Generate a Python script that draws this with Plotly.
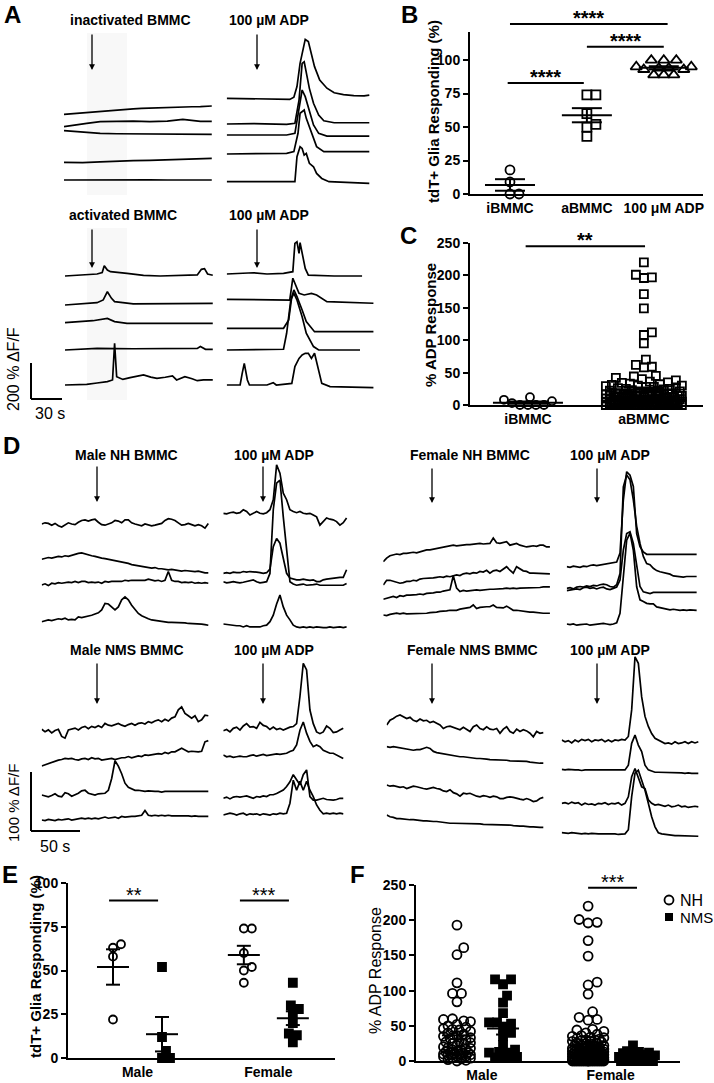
import numpy as np
import plotly.graph_objects as go

W, H = 714, 1083
FONT = "Liberation Sans, Arial, sans-serif"

# ======================= DATA =======================
# ---- Panel A traces: time (s) and dF/F (%) relative to each trace's start ----
A_in_t = [[0,8,18,27,35,43,51,59,67,75,83,91,100,108,115,124,132,138,143],
          [0,9,22,35,51,67,83,100,115,122,132,143],
          [0,13,25,35,51,67,83,100,115,143],
          [0,18,35,51,67,83,100,115,132,143],
          [0,18,35,51,67,83,100,115,132,143]]
A_in_v = [[0,4,9,13,17,21,24,27,30,33,35,36,37,39,40,42,43,44,46],
          [0,9,18,28,31,31,28,31,41,37,30,30],
          [0,-6,-11,-15,-17,-18,-18,-20,-20,-20],
          [0,-2,2,7,9,11,13,17,20,22],
          [0,1,0,-1,0,1,0,0,-1,0]]
A_adp1_t = [[0,16,32,48,61,65,68,71,75,76,79,82,85,90,97,104,113,123,133,138],
            [0,26,58,66,70,73,75,77,80,84,89,94,104,138],
            [0,58,66,70,73,76,79,84,89,97,138],
            [0,58,65,69,71,75,77,82,87,94,138],
            [0,39,66,68,71,73,75,77,80,84,87,92,99,138]]
A_adp1_v = [[0,-2,-4,-6,-6,6,65,194,296,327,315,250,176,102,56,31,20,15,13,18],
            [0,2,-2,4,133,337,346,290,198,115,50,18,7,7],
            [0,0,9,139,250,213,157,56,9,-6,-6],
            [0,4,13,115,226,244,198,115,41,13,13],
            [0,0,0,139,194,185,148,157,102,83,46,18,0,-9]]
A_act_t = [[0,17,31,36,38,41,44,60,76,92,111,128,132,135,138,143],
           [0,17,31,37,41,45,48,66,99,143],
           [0,27,41,48,60,143],
           [0,31,66,128,131,136,143],
           [0,10,21,31,41,46,48,50,56,63,70,76,83,89,97,104,108,116,123,128,134,143]]
A_act_v = [[0,6,11,19,57,33,24,15,4,0,4,6,37,41,11,4],
           [0,6,13,28,74,37,19,6,9,9],
           [0,11,24,6,-4,-4],
           [0,9,7,9,19,4,4],
           [0,2,4,11,19,28,231,46,31,41,50,56,44,37,43,50,28,46,35,24,28,28]]
A_adp2_t = [[0,13,26,39,55,64,66,68,70,71,74,76,79,104,131],
            [0,39,61,64,66,70,75,82,87,97,142],
            [0,55,60,63,65,68,73,77,85,142],
            [0,55,58,62,65,68,73,77,84,89,129],
            [0,13,15,17,20,22,39,45,48,63,66,70,73,76,79,82,85,89,92,100,142]]
A_adp2_v = [[0,4,7,0,4,13,170,179,115,174,78,31,-6,-11,-11],
            [0,0,-4,117,89,33,24,33,24,-13,-22],
            [0,0,46,176,213,176,102,37,-19,-19],
            [0,4,93,278,315,278,185,93,19,0,0],
            [0,0,65,120,28,0,0,13,0,9,102,148,167,176,176,148,176,83,9,-9,-15]]

# ---- Panel D traces: dF/F (%) sampled every 3.4 s ----
D_dt = 3.4
D_male_NH = [
    [0,2,1,-2,1,-3,-5,-1,2,0,-1,3,6,7,5,7,8,3,-1,-2,0,2,6,5,2,7,7,2,0,-2,-3,0,-1,-3,-2,0,1,6,9,8,6,2,-2,-1,1,-1,-3,-1,-3,-7,1],
    [0,1,3,2,4,5,4,6,5,7,8,10,11,9,7,6,5,3,2,1,0,-1,-2,-4,-5,-6,-7,-9,-10,-11,-12,-13,-14,-15,-14,-16,-16,-17,-18,-17,-18,-19,-20,-19,-20,-21,-21,-20,-22,-23,-23],
    [0,2,-1,3,2,4,3,4,5,4,6,4,6,6,4,5,4,5,3,6,5,6,6,7,6,8,7,8,8,7,8,8,10,8,7,8,6,8,23,8,6,6,4,5,4,5,3,4,3,4,3],
    [0,2,3,2,4,5,4,6,3,4,3,8,7,8,9,11,13,15,20,31,30,25,20,25,37,42,37,28,20,14,10,7,5,3,2,2,1,0,-1,-1,-1,-2,-2,-2,-3,-3,-3,-4,-4,-5,-6]]
D_male_NH_adp = [
    [0,-1,1,2,0,1,6,3,-3,0,3,0,-1,1,6,23,82,68,34,23,6,3,1,3,0,-1,0,-3,-6,-20,-14,-8,-10,-11,-14,-20,-16,-8],
    [0,1,0,2,1,1,3,2,3,3,2,1,0,1,7,45,59,51,28,0,-8,-10,-11,-11,-10,-11,-12,-11,-14,-14,-11,-10,-9,-8,-8,-7,-7,6],
    [0,-2,-1,0,-1,-2,-1,0,2,3,0,-2,-1,0,14,122,167,172,110,48,0,-4,-6,-5,-4,-6,-6,-5,-4,-6,-6,-6,-5,-6,-6,-5,-6,-3],
    [0,-1,-2,-2,-3,-3,-5,-3,-5,-5,-5,-5,-3,-2,4,15,34,49,29,15,7,-2,-5,-6,-5,-6,-5,-6,-5,-6,-6,-6,-5,-6,-5,-5,-6,-5]]
D_female_NH = [
    [0,6,10,11,13,12,14,14,15,16,15,17,19,20,20,21,22,24,25,25,27,28,27,28,29,29,29,30,30,31,30,31,31,40,32,31,32,34,28,30,31,28,27,25,26,27,26,28,28,25,25],
    [0,8,8,6,4,3,4,6,6,8,7,10,11,11,11,12,13,14,13,15,14,15,17,16,19,20,19,21,20,23,22,25,20,24,25,23,27,31,25,20,31,27,24,23,20,20,20,19,20,19,19],
    [0,2,3,5,3,6,5,7,7,7,8,9,8,10,10,11,12,12,14,15,16,40,19,13,15,14,15,16,16,15,16,17,17,17,17,18,18,19,18,19,18,19,19,19,20,19,20,20,21,21,21],
    [0,-1,1,2,3,2,3,2,2,3,3,2,3,3,4,4,5,6,6,7,8,8,8,10,11,12,13,17,11,13,14,14,14,17,13,13,12,15,11,8,8,7,7,6,5,5,4,4,3,3,3]]
D_female_NH_adp = [
    [0,-1,1,0,-1,1,0,2,3,2,3,3,4,5,6,8,23,113,161,155,136,56,34,25,21,21,21,21,21,21,22,21,21,21,22,21,21,21,21,21],
    [0,1,-1,2,3,2,4,3,5,4,6,7,6,3,2,6,25,172,192,184,150,105,76,54,42,40,34,30,28,27,25,24,21,20,20,19,20,20,20,20],
    [0,1,2,3,2,5,6,4,5,3,5,6,3,2,4,6,18,69,97,100,80,41,7,-2,-3,-5,-3,-3,-3,-2,-3,-3,-3,-2,-3,-3,-3,-2,-3,-3],
    [0,-1,0,-2,-1,-1,0,-2,-1,-1,0,1,0,-1,0,2,18,86,142,154,125,63,41,38,35,34,34,29,28,27,25,24,25,24,23,24,23,24,23,23]]
D_male_NMS = [
    [0,-4,-1,-6,-2,0,-12,-15,-1,0,2,-1,3,5,1,5,3,6,3,10,7,6,8,10,7,5,8,10,7,10,11,9,13,11,14,16,13,17,14,19,21,33,38,27,23,19,23,13,16,24,23],
    [0,2,5,7,9,10,11,13,12,13,11,10,12,13,11,14,12,13,10,11,12,13,11,13,14,14,16,14,16,17,16,19,18,19,20,21,20,23,21,24,24,27,30,27,24,25,24,24,25,41,43],
    [0,-2,-3,-1,2,-2,-3,4,2,-2,0,3,7,8,3,2,0,2,3,3,8,28,58,49,36,20,13,11,8,8,7,6,7,6,6,6,5,6,6,5,6,6,5,6,6,5,6,6,5,6,6],
    [0,-1,1,0,-1,1,0,1,2,0,1,2,3,2,3,2,3,2,3,5,3,4,5,3,6,5,6,6,6,7,8,16,8,7,8,7,8,7,8,7,7,8,7,7,7,6,7,6,6,7,6]]
D_male_NMS_adp = [
    [0,2,-2,4,6,1,8,12,6,7,4,14,9,7,2,6,2,4,1,4,6,7,12,58,114,103,35,12,-2,-5,-2,8,4,-3,-2,1,4],
    [0,-3,-2,-4,-3,-2,-3,-3,-1,0,-2,0,1,-1,0,0,2,1,2,3,6,8,17,42,56,37,23,14,17,14,8,6,3,3,0,-3,-6],
    [0,2,-1,2,3,2,3,4,2,0,3,2,4,3,6,6,8,11,14,20,28,40,31,23,40,48,3,-3,-3,-2,0,-2,-3,-3,-2,0,0],
    [0,2,3,2,0,2,3,0,2,1,2,0,2,1,0,2,1,3,2,3,20,59,42,57,42,57,42,31,17,8,2,3,2,3,2,3,2]]
D_female_NMS = [
    [0,8,11,15,17,14,11,13,8,6,10,7,8,4,6,3,0,-6,-3,-2,-4,-6,-8,-4,-7,-11,-3,0,-6,-8,-3,-7,-8,-6,-14,-7,-3,-11,-14,-7,-11,-8,-10,-14,-20,-11,-14,-13],
    [0,-1,0,-1,-2,-3,-3,-5,-6,-5,-5,-3,-1,-3,-8,-10,-11,-12,-14,-15,-16,-16,-17,-17,-18,-19,-19,-20,-20,-20,-21,-22,-22,-22,-23,-23,-23,-24,-24,-24,-25,-25,-25,-26,-27,-27,-28,-28],
    [0,-2,-1,-3,-4,-3,-6,-4,-2,-3,-5,-6,-7,-6,-4,-6,-7,-10,-11,-8,-13,-15,-19,-14,-15,-14,-17,-19,-20,-18,-19,-21,-19,-20,-23,-23,-21,-20,-21,-23,-24,-25,-23,-25,-28,-27,-23,-21],
    [0,-3,-4,-6,-6,-7,-8,-8,-8,-9,-10,-10,-10,-11,-11,-11,-12,-13,-13,-14,-14,-14,-14,-14,-15,-15,-15,-14,-15,-16,-16,-16,-17,-17,-17,-16,-17,-17,-18,-19,-19,-19,-20,-20,-20,-21,-21,-21]]
D_female_NMS_adp = [
    [0,-3,-1,-5,0,-3,1,-1,1,-3,0,-1,1,-3,0,-3,0,-1,1,0,6,51,141,130,73,40,23,11,3,0,-3,-6,-5,-7,-3,-6,-5,-3,-6,-3,-5,-3],
    [0,-1,0,-1,-1,-1,-2,-1,-1,-1,-2,-1,-1,-2,-1,-1,-2,-1,-1,-1,7,44,58,41,30,7,-1,-3,-5,-5,-5,-6,-5,-6,-6,-6,-6,-7,-6,-7,-7,-7],
    [0,1,-1,2,0,1,-3,0,-2,-1,-3,0,-1,1,-2,0,-1,1,-3,0,11,45,59,42,28,25,6,0,-3,-2,-3,-5,-3,-6,-5,-3,-6,-5,-7,-6,-5,-6],
    [0,-1,-1,0,-1,-1,-2,-1,-2,-1,-2,-2,-2,-2,-2,-1,-2,-3,-2,-2,5,61,101,106,89,72,50,27,10,0,-2,-3,-4,-5,-5,-5,-5,-6,-5,-6,-6,-6]]

# ---- Panel B: % tdT+ glia responding ----
B_categories = ["iBMMC", "aBMMC", "100 μM ADP"]
B_iBMMC = [18, 9, 0, 0]
B_aBMMC = [74, 74, 60, 52, 50, 43]
B_ADP = [100, 100, 100, 95, 95, 94, 94, 93, 93, 89, 89, 89]

# ---- Panel C: % ADP response ----
C_categories = ["iBMMC", "aBMMC"]
C_iBMMC = [8, 3, 0, 0, 0, 0, 6, 12]
C_aBMMC = [220, 201, 196, 197, 171, 149, 112, 108, 95, 70, 62, 58, 59, 45, 44, 42, 40, 38, 36, 35, 34,
           33, 32, 31, 30, 30, 29, 28, 28, 27, 26, 25, 25, 24, 23, 22, 22, 21, 20, 20,
           19, 18, 18, 17, 16, 16, 15, 15, 14, 14, 13, 13, 12, 12, 12, 11, 11, 10, 10, 10,
           9, 9, 9, 8, 8, 8, 7, 7, 7, 6, 6, 6, 5, 5, 5, 4, 4, 4, 3, 3, 3, 2, 2, 2, 1, 1, 1, 1,
           18, 17, 15, 14, 13, 12, 11, 10, 9, 8, 7, 6, 5, 4, 3, 2, 2, 1, 1, 1,
           16, 13, 11, 9, 7, 5, 3, 2, 1, 1,
           0, 0, 0, 0, 0, 0, 0, 0, 0, 0, 0, 0, 0, 0, 0, 0]

# ---- Panel E: % tdT+ glia responding by sex ----
E_sexes = ["Male", "Female"]
E_male_NH = [65, 63, 58, 22]
E_male_NMS = [52, 12, 4, 0, 0]
E_female_NH = [74, 74, 60, 52, 50, 43]
E_female_NMS = [43, 30, 28, 25, 20, 14, 13, 9]

# ---- Panel F: % ADP response by sex ----
F_male_NH = [193, 161, 151, 111, 96, 96, 84, 60, 59, 57, 56, 52, 50, 48, 46, 45, 44, 42, 40, 38, 36, 35, 33, 32, 30,
             28, 27, 26, 25, 24, 22, 20, 19, 18, 17, 16, 15, 14, 13, 12, 12, 11, 11, 10, 10, 9, 9, 8, 8, 7, 7, 6, 5, 4, 3, 2, 1, 0]
F_male_NMS = [116, 116, 109, 93, 83, 68, 55, 53, 55, 47, 40, 35, 23, 16, 12, 12, 13, 5, 5, 6, 4]
F_female_NH = C_aBMMC
F_female_NMS = [22, 14, 13, 12, 11, 10, 9, 8, 7, 6, 5, 4, 3, 2, 2, 1, 1, 0, 0, 0, 0, 0, 0, 0, 0, 0]

# ======================= FIGURE =======================
fig = go.Figure()
layout = {}
geo = {}
count = [0]


def add_axes(x0, x1, ytop, ybot, xr, yr):
    count[0] += 1
    n = count[0]
    s = "" if n == 1 else str(n)
    layout["xaxis" + s] = dict(domain=[x0 / W, x1 / W], range=xr, anchor="y" + s,
                               visible=False, fixedrange=True)
    layout["yaxis" + s] = dict(domain=[1 - ybot / H, 1 - ytop / H], range=yr, anchor="x" + s,
                               visible=False, fixedrange=True)
    geo[n] = (x0, x1, ytop, ybot, xr, yr)
    return n, "x" + s, "y" + s


def to_px(n, x, y):
    x0, x1, yt, yb, xr, yr = geo[n]
    X = x0 + (x - xr[0]) / (xr[1] - xr[0]) * (x1 - x0)
    Y = yb - (y - yr[0]) / (yr[1] - yr[0]) * (yb - yt)
    return X, Y


def P(X, Y):
    return X / W, 1 - Y / H


def trace_panel(x0, ytop, ybot, px_s, px_pct, times, values, baselines):
    width = min(200, W - x0 - 1)
    n, xa, ya = add_axes(x0, x0 + width, ytop, ybot, [0, width / px_s], [0, (ybot - ytop) / px_pct])
    for t, v, b in zip(times, values, baselines):
        off = (ybot - b) / px_pct
        fig.add_trace(go.Scatter(x=t, y=np.array(v, float) + off, mode="lines",
                                 line=dict(color="black", width=1.7), xaxis=xa, yaxis=ya,
                                 showlegend=False, hoverinfo="skip"))


A_PX_S, A_PX_PCT = 31 / 30, 36 / 200
D_PX_S, D_PX_PCT = 49 / 50, 59 / 100

trace_panel(64, 25, 205, A_PX_S, A_PX_PCT, A_in_t, A_in_v, [114.3, 126.7, 130.7, 162.3, 180.0])
trace_panel(226.7, 25, 205, A_PX_S, A_PX_PCT, A_adp1_t, A_adp1_v, [98.3, 124.0, 135.0, 154.0, 181.7])
trace_panel(65, 225, 405, A_PX_S, A_PX_PCT, A_act_t, A_act_v, [276.0, 305.0, 322.7, 350.0, 385.0])
trace_panel(226.7, 225, 405, A_PX_S, A_PX_PCT, A_adp2_t, A_adp2_v, [274.0, 299.3, 328.3, 350.0, 385.0])


def dtimes(vals):
    return [list(np.arange(len(v)) * D_dt) for v in vals]


for vals, x0, ytop, ybot, bases in [
    (D_male_NH, 41.7, 455, 645, [524, 559.3, 585, 621.7]),
    (D_male_NH_adp, 223.3, 455, 645, [513.3, 573.3, 581.7, 624]),
    (D_female_NH, 383.3, 455, 645, [561.7, 585, 599.3, 615]),
    (D_female_NH_adp, 566.7, 455, 645, [566.7, 588.3, 590.7, 624]),
    (D_male_NMS, 41.7, 650, 850, [729.3, 766, 795, 820]),
    (D_male_NMS_adp, 223.3, 650, 850, [730.7, 755, 798.3, 815]),
    (D_female_NMS, 386.7, 650, 850, [725, 746.7, 785, 815]),
    (D_female_NMS_adp, 561.7, 650, 850, [740, 769.3, 803.3, 832.7]),
]:
    trace_panel(x0, ytop, ybot, D_PX_S, D_PX_PCT, dtimes(vals), vals, bases)


# ---------- dot plots ----------
def stat_panel(x0, x1, ytop, ybot, xr, yr, yticks, xticks, xlabels, fs):
    n, xa, ya = add_axes(x0, x1, ytop, ybot, xr, yr)
    s = "" if n == 1 else str(n)
    tf = dict(family=FONT, size=fs, color="black", weight="bold")
    layout["xaxis" + s].update(visible=True, showline=True, linecolor="black", linewidth=2, ticks="",
                               tickvals=xticks, ticktext=xlabels, tickfont=tf, showgrid=False, zeroline=False)
    layout["yaxis" + s].update(visible=True, showline=True, linecolor="black", linewidth=2, ticks="outside",
                               ticklen=5, tickwidth=2, tickcolor="black", tickvals=yticks, tickfont=tf,
                               showgrid=False, zeroline=False)
    return n, xa, ya


def swarm(vals, ky, d, maxhalf):
    vals = np.asarray(vals, float)
    order = np.argsort(vals, kind="stable")
    step = d / 4
    cands = [0.0]
    j = 1
    while j * step <= maxhalf:
        cands += [j * step, -j * step]
        j += 1
    px_, py_ = [], []
    offs = np.zeros(len(vals))
    for i in order:
        y = vals[i] * ky
        best, bestd = 0.0, -1.0
        for c in cands:
            dist = np.min(np.hypot(np.array(px_) - c, np.array(py_) - y)) if px_ else np.inf
            if dist >= d * 0.98:
                best = c
                break
            if dist > bestd:
                best, bestd = c, dist
        offs[i] = best
        px_.append(best)
        py_.append(y)
    return offs


def group(n, xa, ya, center, vals, symbol, size, maxhalf, hw, cw):
    x0, x1, yt, yb, xr, yr = geo[n]
    kx = (x1 - x0) / (xr[1] - xr[0])
    ky = (yb - yt) / (yr[1] - yr[0])
    offs = swarm(vals, ky, size, maxhalf)
    fig.add_trace(go.Scatter(x=center + offs / kx, y=vals, mode="markers", cliponaxis=False,
                             marker=dict(symbol=symbol, size=size, color="black",
                                         line=dict(color="black", width=1.8)),
                             xaxis=xa, yaxis=ya, showlegend=False, hoverinfo="skip"))
    v = np.asarray(vals, float)
    m = v.mean()
    se = v.std(ddof=1) / np.sqrt(len(v))
    h, c = hw / kx, cw / kx
    xs = [center - h, center + h, None, center, center, None,
          center - c, center + c, None, center - c, center + c]
    ys = [m, m, None, m - se, m + se, None, m + se, m + se, None, m - se, m - se]
    fig.add_trace(go.Scatter(x=xs, y=ys, mode="lines", line=dict(color="black", width=2),
                             xaxis=xa, yaxis=ya, showlegend=False, hoverinfo="skip", cliponaxis=False))


# Panel B
nB, xB, yB = stat_panel(470, 703, 32, 194, [0.48, 3.51], [0, 121], [0, 25, 50, 75, 100], [1, 2, 3], B_categories, 14)
group(nB, xB, yB, 1, B_iBMMC, "circle-open", 9, 25, 25, 15)
group(nB, xB, yB, 2, B_aBMMC, "square-open", 9, 25, 25, 15)
group(nB, xB, yB, 3, B_ADP, "triangle-up-open", 10, 28, 25, 15)

# Panel C
nC, xC, yC = stat_panel(470, 703, 243, 405, [0.5, 2.51], [0, 250], [0, 50, 100, 150, 200, 250], [1, 2], C_categories, 14)
group(nC, xC, yC, 1, C_iBMMC, "circle-open", 8, 36, 35, 20)
group(nC, xC, yC, 2, C_aBMMC, "square-open", 8, 38, 35, 20)

# Panel E
nE, xE, yE = stat_panel(68, 335, 883, 1058, [0.082, 5.53], [0, 100], [0, 25, 50, 75, 100], [1.5, 4.17], E_sexes, 14)
group(nE, xE, yE, 1, E_male_NH, "circle-open", 8, 12, 16, 7)
group(nE, xE, yE, 2, E_male_NMS, "square", 8, 14, 16, 7)
group(nE, xE, yE, 3.67, E_female_NH, "circle-open", 8, 12, 16, 7)
group(nE, xE, yE, 4.67, E_female_NMS, "square", 8, 14, 16, 7)

# Panel F
nF, xF, yF = stat_panel(416, 680, 885, 1061, [0.128, 5.745], [0, 250], [0, 50, 100, 150, 200, 250], [1.53, 4.27], E_sexes, 14)
group(nF, xF, yF, 1, F_male_NH, "circle-open", 9, 15, 15, 7)
group(nF, xF, yF, 1.98, F_male_NMS, "square", 8, 15, 16, 7)
group(nF, xF, yF, 3.79, F_female_NH, "circle-open", 9, 16, 15, 7)
group(nF, xF, yF, 4.83, F_female_NMS, "square", 8, 18, 16, 7)

# ======================= ANNOTATIONS & SHAPES =======================
ann = []
shapes = []


def text(x, y, s, size=14, bold=True, angle=0, xanchor="center", color="black"):
    X, Y = P(x, y)
    ann.append(dict(x=X, y=Y, xref="paper", yref="paper", text=("<b>%s</b>" % s) if bold else s,
                    showarrow=False, xanchor=xanchor, yanchor="middle", textangle=angle,
                    font=dict(family=FONT, size=size, color=color)))


def arrow(x, ytail, yhead):
    X, Y = P(x, yhead)
    ann.append(dict(x=X, y=Y, xref="paper", yref="paper", text="", showarrow=True, ax=0,
                    ay=-(yhead - ytail), arrowhead=2, arrowsize=0.9, arrowwidth=1.3, arrowcolor="black"))


def line(x0, y0, x1, y1, w=2):
    a, b = P(x0, y0)
    c, d = P(x1, y1)
    shapes.append(dict(type="line", xref="paper", yref="paper", x0=a, y0=b, x1=c, y1=d,
                       line=dict(color="black", width=w)))


# faint application bands in A
for yt, yb in [(33, 195), (228, 400)]:
    a, b = P(87, yt)
    c, d = P(127, yb)
    shapes.append(dict(type="rect", xref="paper", yref="paper", x0=a, y0=d, x1=c, y1=b,
                       fillcolor="#f8f8f8", line=dict(width=0), layer="below"))

# panel letters
for lab, x, y in [("A", 12, 15), ("B", 409, 15), ("C", 408, 235), ("D", 11, 445), ("E", 10, 875), ("F", 357, 875)]:
    text(x, y, lab, size=24)

# trace titles
for s, x, y in [("inactivated BMMC", 130, 20), ("100 µM ADP", 269, 20),
                ("activated BMMC", 123, 215), ("100 µM ADP", 269, 215),
                ("Male NH BMMC", 126, 455), ("100 µM ADP", 274, 455),
                ("Female NH BMMC", 470, 455), ("100 µM ADP", 610, 455),
                ("Male NMS BMMC", 127, 650), ("100 µM ADP", 274, 650),
                ("Female NMS BMMC", 472, 650), ("100 µM ADP", 610, 650)]:
    text(x, y, s, size=14)

for x, yt, yh in [(92, 33, 70), (257, 33, 70), (92, 228, 268), (257, 228, 268),
                  (97, 465, 502), (263, 465, 502), (432, 467, 503), (597, 467, 503),
                  (97, 662, 704), (263, 662, 704), (432, 662, 704), (597, 662, 704)]:
    arrow(x, yt, yh)

# scale bars
line(31, 399 - 200 * A_PX_PCT, 31, 399)
line(31, 399, 31 + 30 * A_PX_S, 399)
text(13, 369, "200 % ΔF/F", size=16, bold=False, angle=-90)
text(50, 413, "30 s", size=16, bold=False)
line(31, 831 - 100 * D_PX_PCT, 31, 831)
line(31, 831, 31 + 50 * D_PX_S, 831)
text(13, 803, "100 % ΔF/F", size=15, bold=False, angle=-90)
text(55, 846, "50 s", size=16, bold=False)

# axis titles
text(433, 111, "tdT+ Glia Responding (%)", size=15, angle=-90)
text(430, 325, "% ADP Response", size=15, angle=-90)
text(35, 967, "tdT+ Glia Responding (%)", size=15, angle=-90)
text(375, 971, "% ADP Response", size=16, bold=False, angle=-90)


# significance bars
def sig(n, xa_, xb_, yv, stars, bold=True, size=20):
    X0, Y0 = to_px(n, xa_, yv)
    X1, _ = to_px(n, xb_, yv)
    line(X0, Y0, X1, Y0)
    text((X0 + X1) / 2, Y0 - 6, stars, size=size, bold=bold)


sig(nB, 1.0, 3.05, 127, "****")
sig(nB, 2.0, 3.0, 110, "****")
sig(nB, 0.97, 1.96, 83, "****")
sig(nC, 0.98, 2.01, 245, "**")
sig(nE, 0.92, 1.92, 90, "**", bold=False)
sig(nE, 3.59, 4.59, 90, "***", bold=False)
sig(nF, 3.79, 4.83, 246, "***", bold=False)

# legend for F
a, b = P(664.5, 895.5)
c, d = P(673.5, 904.5)
shapes.append(dict(type="circle", xref="paper", yref="paper", x0=a, y0=d, x1=c, y1=b,
                   line=dict(color="black", width=1.8)))
a, b = P(665, 913)
c, d = P(673, 921)
shapes.append(dict(type="rect", xref="paper", yref="paper", x0=a, y0=d, x1=c, y1=b,
                   fillcolor="black", line=dict(color="black", width=0)))
text(678, 900, "NH", size=16, bold=False, xanchor="left")
text(678, 917, "NMS", size=15, bold=False, xanchor="left")

fig.update_layout(width=W, height=H, margin=dict(l=0, r=0, t=0, b=0), template="none",
                  paper_bgcolor="white", plot_bgcolor="rgba(0,0,0,0)", showlegend=False,
                  font=dict(family=FONT, color="black"), annotations=ann, shapes=shapes, **layout)
fig.write_html("out.html", config={"displayModeBar": False},
               post_script="document.body.style.margin='0px';document.body.style.overflow='hidden';")
